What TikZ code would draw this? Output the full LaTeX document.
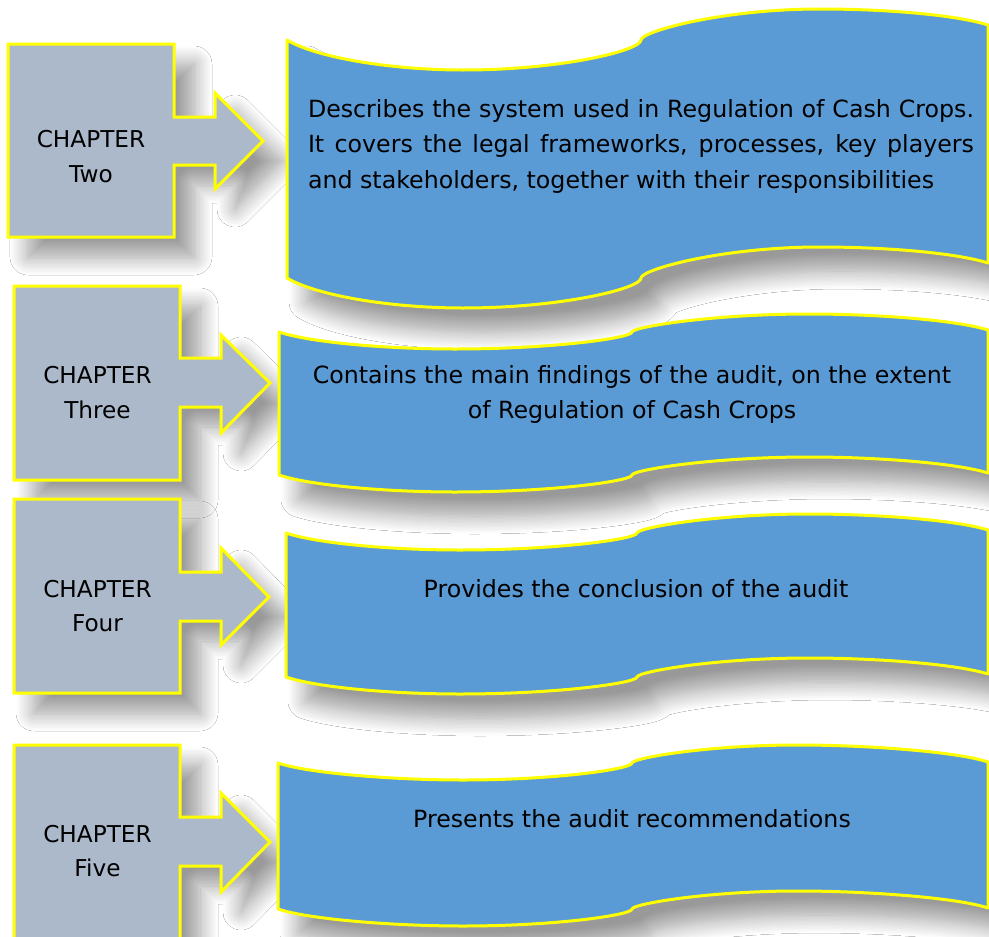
\documentclass[tikz,border=0pt]{standalone}
\usepackage{fontspec}
\setmainfont{DejaVu Sans}
\usetikzlibrary{shadows.blur}
\definecolor{chapfill}{RGB}{172,185,202}
\definecolor{wavefill}{RGB}{91,155,213}
\definecolor{edgeyellow}{RGB}{255,255,0}
\tikzset{
  chapshape/.style={fill=chapfill, draw=edgeyellow, line width=3pt, line join=miter,
    blur shadow={shadow xshift=20pt, shadow yshift=-20pt, shadow blur radius=18pt,
      shadow blur steps=14, shadow opacity=40}},
  waveshape/.style={fill=wavefill, draw=edgeyellow, line width=3pt, line join=round,
    blur shadow={shadow xshift=20pt, shadow yshift=-24pt, shadow blur radius=18pt,
      shadow blur steps=14, shadow opacity=40}},
  chaptext/.style={font=\fontsize{23.2}{34.4}\selectfont, align=center, inner sep=0pt, text=black},
  bodytext/.style={font=\fontsize{23.7}{35.5}\selectfont, inner sep=0pt, text=black},
}
% #1 left x, #2 top y at left, #3 x of lowest point of left bulge, #4 depth of left bulge,
% #5 junction x, #6 x of right peak, #7 height of right peak, #8 y at right edge, #9 height
\newcommand\wavebanner[9]{%
  \pgfmathsetmacro\wvL{#1}\pgfmathsetmacro\wvY{#2}\pgfmathsetmacro\wvLx{#3}%
  \pgfmathsetmacro\wvA{#4}\pgfmathsetmacro\wvJ{#5}\pgfmathsetmacro\wvP{#6}%
  \pgfmathsetmacro\wvB{#7}\pgfmathsetmacro\wvYR{#8}\pgfmathsetmacro\wvH{#9}%
  \pgfmathsetmacro\wvR{988}%
  \path[waveshape]
    (\wvL,\wvY)
    .. controls ({\wvL+30},{\wvY+0.6*\wvA}) and ({\wvLx-70},{\wvY+\wvA}) .. ({\wvLx},{\wvY+\wvA})
    .. controls ({\wvLx+0.55*(\wvJ-\wvLx)},{\wvY+\wvA}) and ({\wvJ},{\wvY+0.35*\wvA}) .. ({\wvJ},{\wvY})
    .. controls ({\wvJ},{\wvY-0.27*\wvB}) and ({\wvJ+0.45*(\wvP-\wvJ)},{\wvY-\wvB}) .. ({\wvP},{\wvY-\wvB})
    .. controls ({\wvP+70},{\wvY-\wvB}) and ({\wvR-30},{\wvYR+0.6*(\wvY-\wvB-\wvYR)}) .. ({\wvR},{\wvYR})
    -- ({\wvR},{\wvYR+\wvH})
    .. controls ({\wvR-30},{\wvYR+\wvH+0.6*(\wvY-\wvB-\wvYR)}) and ({\wvP+70},{\wvY-\wvB+\wvH}) .. ({\wvP},{\wvY-\wvB+\wvH})
    .. controls ({\wvJ+0.45*(\wvP-\wvJ)},{\wvY-\wvB+\wvH}) and ({\wvJ},{\wvY-0.27*\wvB+\wvH}) .. ({\wvJ},{\wvY+\wvH})
    .. controls ({\wvJ},{\wvY+0.35*\wvA+\wvH}) and ({\wvLx+0.55*(\wvJ-\wvLx)},{\wvY+\wvA+\wvH}) .. ({\wvLx},{\wvY+\wvA+\wvH})
    .. controls ({\wvLx-70},{\wvY+\wvA+\wvH}) and ({\wvL+30},{\wvY+0.6*\wvA+\wvH}) .. ({\wvL},{\wvY+\wvH})
    -- cycle;
}
\begin{document}
\begin{tikzpicture}[x=1pt, y=-1pt]
  \useasboundingbox (0,0) rectangle (989,937);
  \fill[white] (0,0) rectangle (989,937);

  % Chapter Two + banner 1
  \path[chapshape] (8,44) -- (174,44) -- (174,117) -- (215,117) -- (215,93) -- (263,141)
    -- (215,189) -- (215,165) -- (174,165) -- (174,237) -- (8,237) -- cycle;
  \wavebanner{287}{40}{463}{30}{641}{820}{31}{25}{238}
  \node[chaptext] (ch2) at (91,156.7) {CHAPTER\\Two};
  \node[bodytext, text width=666pt, align=justify] (d2) at (641,146.3)
    {Describes the system used in Regulation of Cash Crops.\linebreak It covers the legal frameworks, processes, key players\linebreak and stakeholders, together with their responsibilities};

  % Chapter Three + banner 2
  \path[chapshape] (14,286) -- (180,286) -- (180,358) -- (221,358) -- (221,335) -- (270,383)
    -- (221,433) -- (221,407) -- (180,407) -- (180,480) -- (14,480) -- cycle;
  \wavebanner{279}{332}{455}{17}{632}{809}{18}{330}{143}
  \node[chaptext] (ch3) at (97.5,392.5) {CHAPTER\\Three};
  \node[bodytext, align=center] (d3) at (632,394.3)
    {Contains the main findings of the audit, on the extent\\of Regulation of Cash Crops};

  % Chapter Four + banner 3
  \path[chapshape] (14,499) -- (180,499) -- (180,572) -- (221,572) -- (221,548) -- (269,597)
    -- (221,645) -- (221,621) -- (180,621) -- (180,693) -- (14,693) -- cycle;
  \wavebanner{286}{533}{460}{17}{637}{809}{19}{530}{144}
  \node[chaptext] (ch4) at (97.5,606) {CHAPTER\\Four};
  \node[bodytext, anchor=base] (d4) at (636,597) {Provides the conclusion of the audit};

  % Chapter Five + banner 4
  \path[chapshape] (14,745) -- (180,745) -- (180,817) -- (221,817) -- (221,793) -- (270,842)
    -- (221,892) -- (221,866) -- (180,866) -- (180,960) -- (14,960) -- cycle;
  \wavebanner{278}{763}{463}{17}{632}{798}{18}{762}{146}
  \node[chaptext] (ch5) at (97.5,851.3) {CHAPTER\\Five};
  \node[bodytext, anchor=base] (d5) at (632,827) {Presents the audit recommendations};
\end{tikzpicture}
\end{document}
